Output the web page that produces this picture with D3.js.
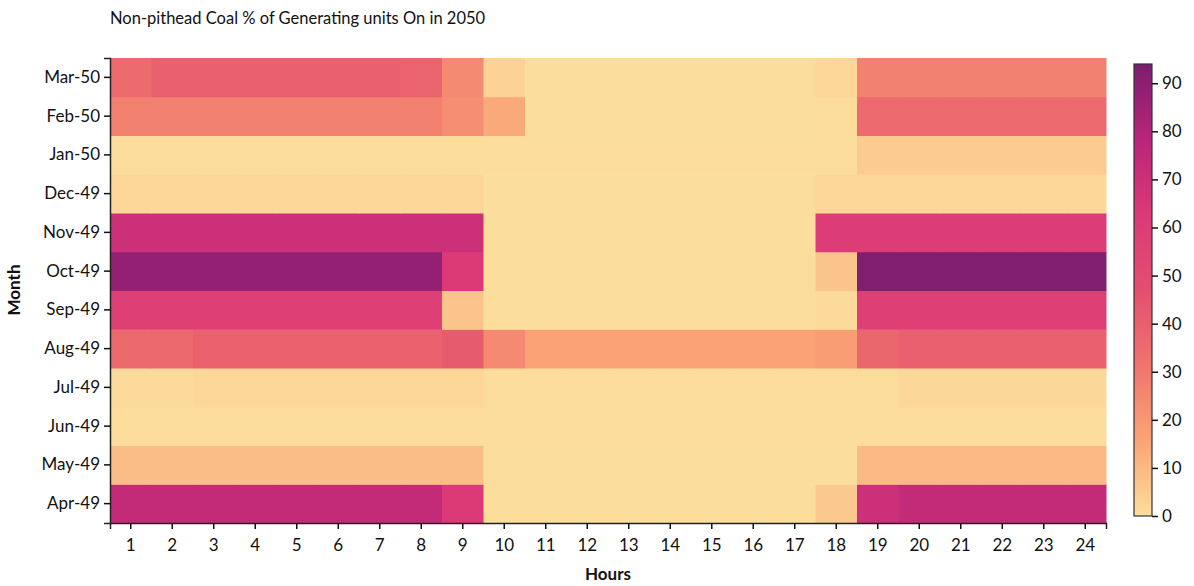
<!DOCTYPE html>
<html><head><meta charset="utf-8">
<script src="https://cdn.jsdelivr.net/npm/d3@7"></script>
<style>body{margin:0;background:#fff;} text{font-family:Lato,"Open Sans",sans-serif;fill:#111;}</style>
</head><body><svg id="c" width="1194" height="586"></svg>
<script>
const months = ["Apr-49","May-49","Jun-49","Jul-49","Aug-49","Sep-49","Oct-49","Nov-49","Dec-49","Jan-50","Feb-50","Mar-50"];
const hours = d3.range(1,25);
const colorTicks = [0,10,20,30,40,50,60,70,80,90];
// values per month, hours 1..24
const apr49 = [74,74,74,74,74,74,74,74,62,0,0,0,0,0,0,0,0,6,70,74,74,74,74,74];
const may49 = [9,9,9,9,9,9,9,9,9,0,0,0,0,0,0,0,0,0,10,10,10,10,10,10];
const jun49 = [0.3,0.3,0.3,0.3,0.3,0.3,0.3,0.3,0.3,0.3,0.3,0.3,0.3,0.3,0.3,0.3,0.3,0.3,0.3,0.3,0.3,0.3,0.3,0.3];
const jul49 = [1,1,2,2,2,2,2,2,2,0.5,0.5,0.5,0.5,0.5,0.5,0.5,0.5,0.5,0.5,1.5,1.5,1.5,1.5,1.5];
const aug49 = [36,36,39,39,39,39,39,39,42,24,16,16,16,16,16,16,16,18,37,40,40,40,40,40];
const sep49 = [58,58,58,58,58,58,58,58,7,0,0,0,0,0,0,0,0,1,58,58,58,58,58,58];
const oct49 = [88,88,88,88,88,88,88,88,62,0,0,0,0,0,0,0,0,7,93,93,93,93,93,93];
const nov49 = [70,70,70,70,70,70,70,70,70,0,0,0,0,0,0,0,0,60,60,60,60,60,60,60];
const dec49 = [2,2,2,2,2,2,2,2,2,0,0,0,0,0,0,0,0,2,2,2,2,2,2,2];
const jan50 = [0.5,0.5,0.5,0.5,0.5,0.5,0.5,0.5,0.5,0.5,0.5,0.5,0.5,0.5,0.5,0.5,0.5,0.5,5,5,5,5,5,5];
const feb50 = [27,27,27,27,27,27,27,27,23,14,0,0,0,0,0,0,0,0.5,35,35,35,35,35,35];
const mar50 = [35,40,40,40,40,40,40,38,24,3,0,0,0,0,0,0,0,2,27,27,27,27,27,27];
const series = [apr49,may49,jun49,jul49,aug49,sep49,oct49,nov49,dec49,jan50,feb50,mar50];
const palette = ["#fcde9c","#faa476","#f0746e","#e34f6f","#dc3977","#b9257a","#7c1d6f"];

const vmax = 94;
const svg = d3.select("#c");
const L=110, R=1106, T=58, B=523;
const x = d3.scaleBand().domain(hours).range([L,R]).padding(0);
const y = d3.scaleBand().domain(months).range([B,T]).padding(0);
const color = d3.scaleLinear().domain(palette.map((_,i)=>i*vmax/(palette.length-1))).range(palette).clamp(true);

const cells = [];
months.forEach((m,i)=>hours.forEach((h,j)=>cells.push({m,h,v:series[i][j]})));
svg.append("g").selectAll("rect").data(cells).join("rect")
  .attr("x",d=>x(d.h)).attr("y",d=>y(d.m))
  .attr("width",x.bandwidth()+0.5).attr("height",y.bandwidth()+0.5)
  .attr("fill",d=>color(d.v));

const ax = svg.append("g").attr("transform",`translate(0,${B})`).call(d3.axisBottom(x).tickSizeOuter(0).tickSize(6).tickPadding(10));
ax.selectAll("text").attr("font-size",17);
const ay = svg.append("g").attr("transform",`translate(${L},0)`).call(d3.axisLeft(y).tickSizeOuter(0).tickSize(6).tickPadding(4));
ay.selectAll("text").attr("font-size",17);
svg.selectAll(".domain").attr("stroke","#222").attr("stroke-width",1.5);
svg.selectAll(".tick line").attr("stroke","#111").attr("stroke-width",1.5);

svg.append("text").attr("x",110).attr("y",24).attr("font-size",16.5).text("Non-pithead Coal % of Generating units On in 2050");
svg.append("text").attr("x",608).attr("y",580).attr("text-anchor","middle").attr("font-size",17).attr("font-weight","bold").text("Hours");
svg.append("text").attr("transform","translate(20,290) rotate(-90)").attr("text-anchor","middle").attr("font-size",17).attr("font-weight","bold").text("Month");

// colorbar
const cbx=1134, cbw=18, cbT=64, cbB=516;
const cs = d3.scaleLinear().domain([0,vmax]).range([cbB,cbT]);
const defs = svg.append("defs");
const grad = defs.append("linearGradient").attr("id","g").attr("x1",0).attr("y1",1).attr("x2",0).attr("y2",0);
palette.forEach((c,i)=>grad.append("stop").attr("offset",i/(palette.length-1)).attr("stop-color",c));
svg.append("rect").attr("x",cbx).attr("y",cbT).attr("width",cbw).attr("height",cbB-cbT).attr("fill","url(#g)").attr("stroke","#333").attr("stroke-width",1.2);
const ac = svg.append("g").attr("transform",`translate(${cbx+cbw},0)`).call(d3.axisRight(cs).tickValues(colorTicks).tickSize(6).tickPadding(4));
ac.select(".domain").remove();
ac.selectAll("text").attr("font-size",17);
ac.selectAll(".tick line").attr("stroke","#111").attr("stroke-width",1.5);
</script></body></html>
